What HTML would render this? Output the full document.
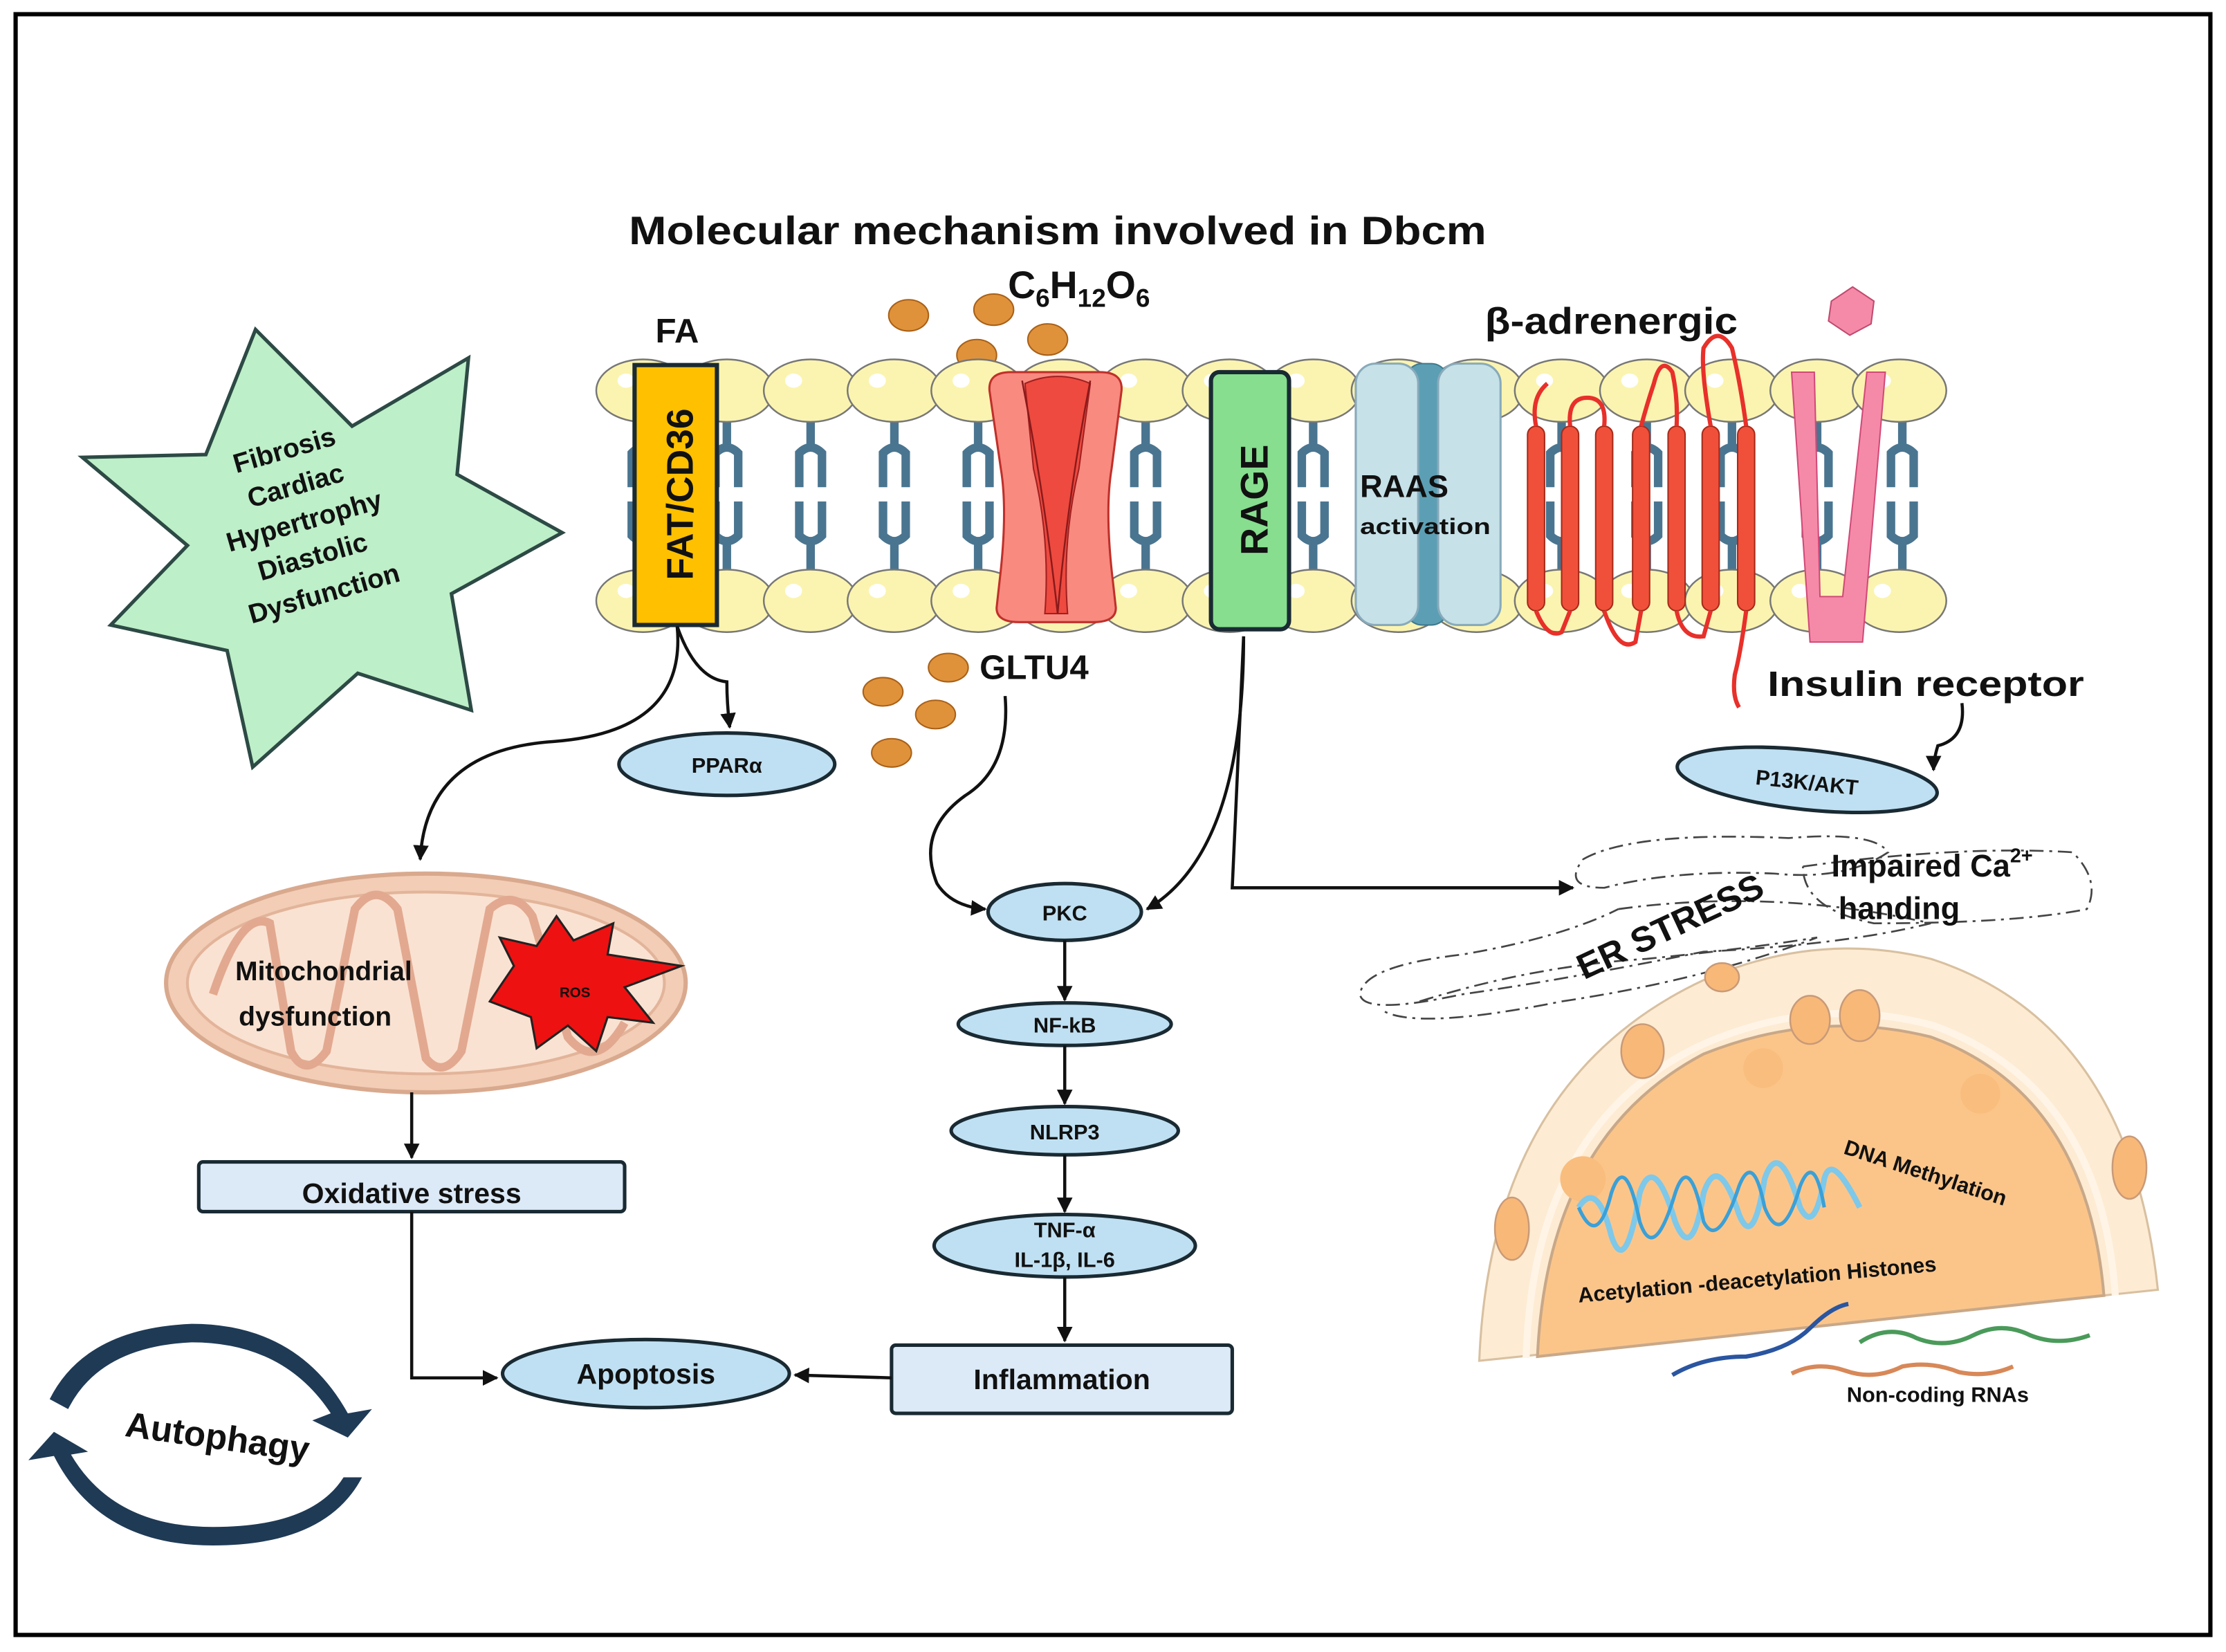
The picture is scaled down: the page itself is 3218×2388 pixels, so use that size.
<!DOCTYPE html>
<html><head><meta charset="utf-8"><style>
html,body{margin:0;padding:0;background:#fff}
svg{display:block}
text{font-family:"Liberation Sans",sans-serif;font-weight:bold;fill:#111}
</style></head><body>
<svg width="3218" height="2388" viewBox="0 0 1568 1163" preserveAspectRatio="none" xmlns="http://www.w3.org/2000/svg">
<defs>
<marker id="ah" viewBox="0 0 10 10" refX="9" refY="5" markerWidth="5" markerHeight="5" orient="auto"><path d="M0,0 L10,5 L0,10 Z" fill="#111"/></marker>
<g id="head"><ellipse cx="0" cy="0" rx="33" ry="22" fill="#fbf4b0" stroke="#777" stroke-width="1.2"/><ellipse cx="-12" cy="-7" rx="6" ry="5" fill="#fff"/></g>
<g id="tail"><path d="M0,22 V38 M-8,68 V44 Q0,36 8,44 V68 M-8,78 V102 Q0,110 8,102 V78 M0,106 V126" stroke="#4a7590" stroke-width="6" fill="none"/></g>
</defs>
<rect x="0" y="0" width="1568" height="1163" fill="#fff"/>
<rect x="11" y="10" width="1546" height="1141" fill="none" stroke="#000" stroke-width="3"/>

<text x="443" y="172" font-size="28" textLength="604" lengthAdjust="spacingAndGlyphs">Molecular mechanism involved in Dbcm</text>
<text x="710" y="210" font-size="27" fill="#333">C<tspan font-size="18" dy="6">6</tspan><tspan dy="-6">H</tspan><tspan font-size="18" dy="6">12</tspan><tspan dy="-6">O</tspan><tspan font-size="18" dy="6">6</tspan></text>
<text x="477" y="241" font-size="24" text-anchor="middle">FA</text>
<text x="1046" y="235" font-size="26" textLength="178" lengthAdjust="spacingAndGlyphs">β-adrenergic</text>

<g fill="#e0923a" stroke="#a86018" stroke-width="1">
<ellipse cx="640" cy="222" rx="14" ry="11"/><ellipse cx="700" cy="218" rx="14" ry="11"/><ellipse cx="688" cy="250" rx="14" ry="11"/><ellipse cx="738" cy="239" rx="14" ry="11"/>
<ellipse cx="668" cy="470" rx="14" ry="10"/><ellipse cx="622" cy="487" rx="14" ry="10"/><ellipse cx="659" cy="503" rx="14" ry="10"/><ellipse cx="628" cy="530" rx="14" ry="10"/>
</g>

<g>
<use href="#tail" x="453" y="275"/><use href="#tail" x="512" y="275"/><use href="#tail" x="571" y="275"/><use href="#tail" x="630" y="275"/><use href="#tail" x="689" y="275"/><use href="#tail" x="748" y="275"/><use href="#tail" x="807" y="275"/><use href="#tail" x="866" y="275"/><use href="#tail" x="925" y="275"/><use href="#tail" x="1100" y="275"/><use href="#tail" x="1160" y="275"/><use href="#tail" x="1220" y="275"/><use href="#tail" x="1280" y="275"/><use href="#tail" x="1340" y="275"/>
</g>
<g>
<use href="#head" x="453" y="275"/><use href="#head" x="512" y="275"/><use href="#head" x="571" y="275"/><use href="#head" x="630" y="275"/><use href="#head" x="689" y="275"/><use href="#head" x="748" y="275"/><use href="#head" x="807" y="275"/><use href="#head" x="866" y="275"/><use href="#head" x="925" y="275"/><use href="#head" x="985" y="275"/><use href="#head" x="1040" y="275"/><use href="#head" x="1100" y="275"/><use href="#head" x="1160" y="275"/><use href="#head" x="1220" y="275"/><use href="#head" x="1280" y="275"/><use href="#head" x="1338" y="275"/>
<use href="#head" x="453" y="423"/><use href="#head" x="512" y="423"/><use href="#head" x="571" y="423"/><use href="#head" x="630" y="423"/><use href="#head" x="689" y="423"/><use href="#head" x="748" y="423"/><use href="#head" x="807" y="423"/><use href="#head" x="866" y="423"/><use href="#head" x="925" y="423"/><use href="#head" x="985" y="423"/><use href="#head" x="1040" y="423"/><use href="#head" x="1100" y="423"/><use href="#head" x="1160" y="423"/><use href="#head" x="1220" y="423"/><use href="#head" x="1280" y="423"/><use href="#head" x="1338" y="423"/>
</g>

<rect x="447" y="257" width="58" height="183" fill="#ffc000" stroke="#1a2a33" stroke-width="3"/>
<text transform="translate(488,348) rotate(-90)" font-size="26" text-anchor="middle">FAT/CD36</text>

<path d="M697,275 Q696,262 712,262 L775,262 Q791,262 790,275 L783,330 Q778,360 784,410 L786,428 Q786,438 770,438 L718,438 Q702,438 702,428 L704,410 Q710,360 705,330 Z" fill="#f88a80" stroke="#c0302a" stroke-width="1.5"/>
<path d="M722,270 Q745,260 768,270 L760,330 Q748,380 752,432 L736,432 Q740,380 728,330 Z" fill="#ee4a40" stroke="#a02020"/>
<path d="M720,268 Q736,350 745,432 M768,268 Q752,350 745,432" stroke="#8a1a1a" fill="none" stroke-width="1.2"/>

<rect x="853" y="262" width="55" height="181" rx="6" fill="#86de8e" stroke="#1a2a33" stroke-width="3"/>
<text transform="translate(893,352) rotate(-90)" font-size="27" text-anchor="middle">RAGE</text>

<rect x="990" y="256" width="30" height="184" rx="12" fill="#5c9fb4" stroke="#3d7a8e"/>
<rect x="955" y="256" width="44" height="184" rx="14" fill="#c6e1e8" stroke="#8ab" stroke-width="1.5"/>
<rect x="1013" y="256" width="44" height="184" rx="14" fill="#c6e1e8" stroke="#8ab" stroke-width="1.5"/>
<text x="958" y="350" font-size="22">RAAS</text>
<text x="958" y="376" font-size="16" textLength="92" lengthAdjust="spacingAndGlyphs">activation</text>

<g fill="#f0503a" stroke="#a52a1a" stroke-width="1">
<rect x="1076" y="300" width="12" height="130" rx="6"/><rect x="1100" y="300" width="12" height="130" rx="6"/><rect x="1124" y="300" width="12" height="130" rx="6"/><rect x="1150" y="300" width="12" height="130" rx="6"/><rect x="1175" y="300" width="12" height="130" rx="6"/><rect x="1199" y="300" width="12" height="130" rx="6"/><rect x="1224" y="300" width="12" height="130" rx="6"/>
</g>
<g fill="none" stroke="#e8302a" stroke-width="3">
<path d="M1082,300 Q1078,280 1090,270"/>
<path d="M1106,300 Q1104,280 1118,280 Q1132,280 1130,300"/>
<path d="M1156,300 Q1160,285 1165,270 Q1170,250 1178,262 Q1182,280 1181,300"/>
<path d="M1205,300 Q1198,260 1200,245 Q1210,228 1220,245 Q1226,270 1230,300"/>
<path d="M1082,430 Q1090,450 1100,445 Q1106,430 1106,430 M1130,430 Q1140,460 1152,452 L1156,430 M1181,430 Q1185,450 1200,448 L1205,430 M1230,430 Q1226,460 1222,475 Q1220,490 1225,498"/>
</g>

<path d="M1262,262 L1278,262 L1282,420 L1298,420 L1315,262 L1328,262 L1312,452 L1275,452 Z" fill="#f58aa8" stroke="#d04a78" stroke-width="1"/>
<path d="M1290,212 L1305,202 L1320,212 L1318,228 L1303,236 L1288,226 Z" fill="#f58aa8" stroke="#c04a70"/>
<text x="1245" y="490" font-size="25" textLength="223" lengthAdjust="spacingAndGlyphs">Insulin receptor</text>

<text x="690" y="478" font-size="24">GLTU4</text>

<polygon points="180,232 248,300 330,252 322,334 396,375 318,418 332,500 252,474 178,540 160,458 78,440 132,384 58,322 145,320" fill="#bdefc8" stroke="#2d4a45" stroke-width="2.5"/>
<g font-size="19" text-anchor="middle">
<text transform="translate(202,323) rotate(-16)">Fibrosis</text>
<text transform="translate(210,348) rotate(-16)">Cardiac</text>
<text transform="translate(216,373) rotate(-16)">Hypertrophy</text>
<text transform="translate(222,398) rotate(-16)">Diastolic</text>
<text transform="translate(230,424) rotate(-16)">Dysfunction</text>
</g>

<g fill="#bfe0f2" stroke="#1a2a33" stroke-width="2.5">
<ellipse cx="512" cy="538" rx="76" ry="22"/>
<ellipse cx="750" cy="642" rx="54" ry="20"/>
<ellipse cx="750" cy="721" rx="75" ry="15"/>
<ellipse cx="750" cy="796" rx="80" ry="17"/>
<ellipse cx="750" cy="877" rx="92" ry="22"/>
<ellipse cx="455" cy="967" rx="101" ry="24"/>
<ellipse cx="1273" cy="549" rx="92" ry="21" transform="rotate(6 1273 549)"/>
</g>
<g font-size="15" text-anchor="middle">
<text x="512" y="544">PPARα</text>
<text x="750" y="648">PKC</text>
<text x="750" y="727">NF-kB</text>
<text x="750" y="802">NLRP3</text>
<text x="750" y="871">TNF-α</text>
<text x="750" y="892">IL-1β, IL-6</text>
<text x="1273" y="556" transform="rotate(6 1273 549)">P13K/AKT</text>
</g>
<text x="455" y="974" font-size="20" text-anchor="middle">Apoptosis</text>

<rect x="140" y="818" width="300" height="35" rx="3" fill="#dce9f6" stroke="#1a2a33" stroke-width="2.5"/>
<text x="290" y="847" font-size="20" text-anchor="middle">Oxidative stress</text>
<rect x="628" y="947" width="240" height="48" rx="3" fill="#dce9f6" stroke="#1a2a33" stroke-width="2.5"/>
<text x="748" y="978" font-size="20" text-anchor="middle">Inflammation</text>

<ellipse cx="300" cy="692" rx="183" ry="77" fill="#f3cdb6" stroke="#d9a98e" stroke-width="3"/>
<ellipse cx="300" cy="692" rx="168" ry="64" fill="#fae2d2" stroke="#e2b49a" stroke-width="2"/>
<path d="M150,700 Q170,640 190,650 L205,740 Q215,760 230,740 L250,640 Q265,620 280,640 L300,745 Q312,760 325,740 L345,640 Q362,625 375,645 L400,730 Q420,755 440,720" fill="none" stroke="#e2a990" stroke-width="6"/>
<polygon points="345,705 362,680 352,660 378,666 392,645 404,662 432,650 428,672 480,680 440,695 460,720 428,716 420,740 400,722 378,738 374,716" fill="#ee1111" stroke="#222" stroke-width="1.5"/>
<text x="405" y="702" font-size="10" text-anchor="middle">ROS</text>
<text x="228" y="690" font-size="19" text-anchor="middle">Mitochondrial</text>
<text x="222" y="722" font-size="19" text-anchor="middle">dysfunction</text>

<g fill="none" stroke="#111" stroke-width="2.2" marker-end="url(#ah)">
<path d="M477,441 Q484,515 390,522 Q300,528 296,605"/>
<path d="M477,441 Q490,478 512,480 Q512,495 514,512"/>
<path d="M708,490 Q712,540 680,560 Q645,585 660,622 Q670,638 694,640"/>
<path d="M876,448 Q876,600 808,640"/>
<path d="M876,448 L868,625 L1108,625"/>
<path d="M750,662 V704"/>
<path d="M750,736 V777"/>
<path d="M750,813 V853"/>
<path d="M750,899 V944"/>
<path d="M290,769 V815"/>
<path d="M290,853 V970 L350,970"/>
<path d="M628,970 L560,968"/>
<path d="M1382,495 Q1385,520 1365,525 Q1362,535 1362,542"/>
</g>

<g fill="none" stroke="#444" stroke-width="1.3" stroke-dasharray="10 4 2 4">
<path d="M1115,605 Q1150,585 1260,590 Q1320,585 1330,600 Q1300,620 1250,615 Q1180,612 1130,625 Q1100,625 1115,605"/>
<path d="M1270,610 Q1380,595 1460,600 Q1480,620 1470,640 Q1420,650 1320,650 Q1270,640 1270,610"/>
<path d="M1140,640 Q1250,625 1360,650 Q1300,665 1200,670 Q1100,690 1030,700 Q960,715 958,700 Q960,680 1030,672 Q1100,660 1140,640"/>
<path d="M1000,705 Q1080,680 1160,675 Q1230,668 1280,660 Q1200,690 1100,705 Q1000,725 975,712"/>
</g>
<text transform="translate(1180,660) rotate(-25)" font-size="25" text-anchor="middle">ER STRESS</text>
<text x="1290" y="617" font-size="22">Impaired Ca<tspan font-size="14" dy="-10">2+</tspan></text>
<text x="1295" y="647" font-size="22">handing</text>

<path d="M1042,958 Q1050,760 1200,690 Q1280,655 1360,675 Q1500,720 1520,908 Z" fill="#fdebd3" stroke="#d8c0a0" stroke-width="1.5"/>
<path d="M1083,955 Q1090,800 1200,742 Q1280,710 1360,730 Q1470,770 1482,912 Z" fill="#fbc58a" stroke="#c8a888" stroke-width="2"/>
<path d="M1075,956 Q1080,790 1200,735 Q1280,700 1362,722 Q1480,765 1490,912" fill="none" stroke="#fff4e6" stroke-width="5"/>
<g fill="#f8b878" stroke="#c89a78" stroke-width="1.2">
<ellipse cx="1213" cy="688" rx="12" ry="10"/><ellipse cx="1157" cy="740" rx="15" ry="19"/><ellipse cx="1275" cy="718" rx="14" ry="17"/><ellipse cx="1310" cy="715" rx="14" ry="18"/><ellipse cx="1065" cy="865" rx="12" ry="22"/><ellipse cx="1500" cy="822" rx="12" ry="22"/>
</g>
<g fill="#f9bd7d"><circle cx="1115" cy="830" r="16"/><circle cx="1242" cy="752" r="14"/><circle cx="1395" cy="770" r="14"/></g>
<g fill="none" stroke-width="4">
<path d="M1112,850 Q1125,830 1135,870 Q1145,900 1155,840 Q1165,810 1180,860 Q1192,890 1200,840 Q1210,810 1225,855 Q1235,880 1243,830 Q1253,800 1268,850 Q1278,870 1285,830 Q1290,810 1310,850" stroke="#7ec8ea"/>
<path d="M1112,850 Q1125,880 1135,840 Q1145,810 1155,860 Q1165,890 1180,840 Q1190,810 1200,860 Q1210,880 1225,835 Q1235,810 1243,850 Q1255,880 1268,835 Q1278,810 1285,850" stroke="#3aa0d8" stroke-width="2.5"/>
</g>
<text transform="translate(1298,812) rotate(18)" font-size="15">DNA Methylation</text>
<text transform="translate(1112,917) rotate(-5)" font-size="15">Acetylation -deacetylation Histones</text>
<path d="M1178,968 Q1200,955 1230,955 Q1260,950 1275,935 Q1290,920 1302,918" fill="none" stroke="#2a55a0" stroke-width="3"/>
<path d="M1310,945 Q1330,932 1350,942 Q1370,950 1390,940 Q1410,930 1430,940 Q1450,948 1472,940" fill="none" stroke="#4a9a5a" stroke-width="3"/>
<path d="M1262,967 Q1280,958 1300,965 Q1320,972 1340,962 Q1360,958 1380,966 Q1400,970 1418,962" fill="none" stroke="#d88858" stroke-width="3"/>
<text x="1365" y="987" font-size="15" text-anchor="middle">Non-coding RNAs</text>

<path d="M35,985 Q60,935 135,932 Q210,932 245,995 L262,992 L245,1012 L220,1000 L233,995 Q200,945 135,945 Q70,948 48,992 Z" fill="#1f3a55"/>
<path d="M255,1040 Q230,1088 150,1088 Q70,1088 38,1025 L20,1028 L38,1008 L62,1022 L50,1024 Q80,1075 150,1075 Q220,1075 242,1040 Z" fill="#1f3a55"/>
<text transform="translate(152,1020) rotate(8)" font-size="25" text-anchor="middle">Autophagy</text>
</svg>
</body></html>
